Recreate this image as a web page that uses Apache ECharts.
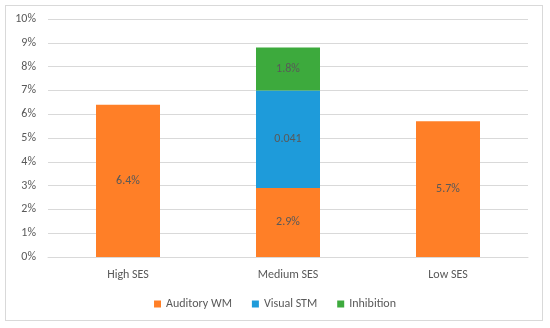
<!DOCTYPE html>
<html><head><meta charset="utf-8">
<script src="https://cdn.jsdelivr.net/npm/echarts@6/dist/echarts.min.js"></script>
<style>html,body{margin:0;padding:0;background:#fff}#c{width:550px;height:328px}
#frame{position:absolute;left:5px;top:5px;width:538px;height:316px;border:1px solid #d9d9d9;box-sizing:border-box;pointer-events:none}</style>
</head><body><div id="c"></div><div id="frame"></div>
<script>
const categories = ['High SES', 'Medium SES', 'Low SES'];
const auditoryWM = [0.064, 0.029, 0.057];
const visualSTM = [null, 0.041, null];
const inhibition = [null, 0.018, null];
const yTicks = [0, 0.01, 0.02, 0.03, 0.04, 0.05, 0.06, 0.07, 0.08, 0.09, 0.10];

const font = 'Calibri, Carlito, "Liberation Sans", "Open Sans", sans-serif';
const pct = v => (v * 100).toFixed(1) + '%';
const chart = echarts.init(document.getElementById('c'));
chart.setOption({
  animation: false,
  textStyle: { fontFamily: font },
  grid: { left: 48, right: 22, top: 19, bottom: 71, containLabel: false },
  legend: {
    bottom: 13, itemWidth: 7, itemHeight: 7, itemGap: 20, icon: 'rect',
    textStyle: { color: '#595959', fontSize: 12, fontFamily: font },
    data: ['Auditory WM', 'Visual STM', 'Inhibition']
  },
  xAxis: {
    type: 'category', data: categories,
    axisLine: { lineStyle: { color: '#d9d9d9' } },
    axisTick: { show: false },
    axisLabel: { color: '#595959', fontSize: 12, margin: 12, fontFamily: font }
  },
  yAxis: {
    type: 'value', min: 0, max: 0.10, interval: 0.01,
    axisLine: { show: false }, axisTick: { show: false },
    splitLine: { lineStyle: { color: '#d9d9d9' } },
    axisLabel: { color: '#595959', fontSize: 12, margin: 12, fontFamily: font,
      formatter: v => Math.round(v * 100) + '%' }
  },
  series: [
    { name: 'Auditory WM', type: 'bar', stack: 's', data: auditoryWM, barWidth: '40%',
      itemStyle: { color: '#FF7F27' },
      label: { show: true, position: 'inside', color: '#595959', fontSize: 12, fontFamily: font,
        formatter: p => pct(p.value) } },
    { name: 'Visual STM', type: 'bar', stack: 's', data: visualSTM, barWidth: '40%',
      itemStyle: { color: '#1E9BDA' },
      label: { show: true, position: 'inside', color: '#595959', fontSize: 12, fontFamily: font,
        formatter: p => String(p.value) } },
    { name: 'Inhibition', type: 'bar', stack: 's', data: inhibition, barWidth: '40%',
      itemStyle: { color: '#3DAA3D' },
      label: { show: true, position: 'inside', color: '#595959', fontSize: 12, fontFamily: font,
        formatter: p => pct(p.value) } }
  ]
});
</script></body></html>
